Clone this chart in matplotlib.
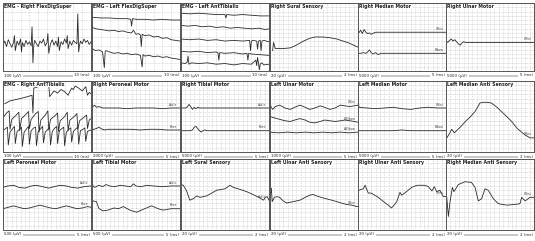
import matplotlib
matplotlib.use("Agg")
import matplotlib.pyplot as plt
from matplotlib.patches import Rectangle

W, H = 535, 241

titles = [
    "EMG - Right FlexDigSuper", "EMG - Left FlexDigSuper", "EMG - Left AntTibialis",
    "Right Sural Sensory", "Right Median Motor", "Right Ulnar Motor",
    "EMG - Right AntTibialis", "Right Peroneal Motor", "Right Tibial Motor",
    "Left Ulnar Motor", "Left Median Motor", "Left Median Anti Sensory",
    "Left Peroneal Motor", "Left Tibial Motor", "Left Sural Sensory",
    "Left Ulnar Anti Sensory", "Right Ulnar Anti Sensory", "Right Median Anti Sensory",
]
amp_labels = [
    "100 (µV)", "100 (µV)", "100 (µV)", "20 (µV)", "5000 (µV)", "5000 (µV)",
    "100 (µV)", "2000 (µV)", "5000 (µV)", "1000 (µV)", "5000 (µV)", "20 (µV)",
    "500 (µV)", "500 (µV)", "20 (µV)", "20 (µV)", "20 (µV)", "20 (µV)",
]
time_labels = [
    "10 (ms)", "10 (ms)", "10 (ms)", "2 (ms)", "5 (ms)", "5 (ms)",
    "10 (ms)", "5 (ms)", "5 (ms)", "5 (ms)", "5 (ms)", "2 (ms)",
    "5 (ms)", "5 (ms)", "2 (ms)", "2 (ms)", "2 (ms)", "2 (ms)",
]
is_emg = [True, True, True, False, False, False,
          True, False, False, False, False, False,
          False, False, False, False, False, False]

# ---- traces (x: 0-100 across panel, y: 0-100 bottom to top) ----
p1_x = [0,2,4,6,8,10,12,13,14,16,18,20,21,22,24,26,28,30,32,33,34,35,36,38,40,42,44,46,48,50,
        51,52,54,56,58,60,62,63,64,66,68,70,72,73,74,76,78,80,82,84,85,86,87,88,90,92,94,96,98,100]
p1_y = [38,44,36,46,40,35,42,52,30,44,38,47,28,42,36,45,39,43,37,65,12,38,45,40,36,44,41,47,37,42,
        55,26,40,46,38,44,36,50,30,43,39,47,41,52,33,44,38,45,42,40,84,28,38,44,40,47,42,45,39,43]

p2a_x = [0,10,20,30,40,44,45,46,50,60,70,80,90,100]
p2a_y = [79,78,78,77,77,76,66,77,76,76,75,76,75,75]
p2b_x = [0,5,10,15,20,25,30,35,40,45,47,50,53,55,56,57,60,65,70,75,80,85,90,95,100]
p2b_y = [64,62,61,60,59,60,58,59,57,56,60,54,55,53,36,54,52,53,50,51,48,49,46,45,44]
p2c_x = [0,4,8,12,14,15,16,20,25,30,35,40,45,50,55,57,58,60,65,70,75,80,85,90,95,100]
p2c_y = [33,30,31,28,5,29,30,28,26,27,25,26,24,25,23,6,24,22,23,21,22,20,21,19,18,17]

p3a_x = [0,10,20,30,40,50,51,52,60,70,80,90,100]
p3a_y = [85,84,85,84,83,83,78,83,82,83,82,81,81]
p3b_x = [0,8,16,24,32,40,48,56,64,72,80,88,96,100]
p3b_y = [67,66,67,65,66,64,65,63,64,63,62,63,61,62]
p3c_x = [0,10,20,30,40,50,60,70,78,79,80,82,86,87,88,90,91,92,94,100]
p3c_y = [47,46,47,45,46,44,45,44,45,30,44,45,44,32,44,45,30,44,45,43]
p3d_x = [0,10,20,30,40,42,43,44,50,60,70,75,76,77,80,90,100]
p3d_y = [29,28,29,27,28,27,16,27,26,27,25,26,16,26,25,24,23]
p3e_x = [0,5,7,8,9,12,20,30,40,50,60,70,80,85,86,87,88,89,90,92,94,100]
p3e_y = [12,11,13,22,10,12,11,12,10,11,9,11,10,16,8,20,12,2,10,12,9,10]

p4_x = [3,4,6,15,23,30,38,45,51,60,68,76,83,90,95,100]
p4_y = [30,42,33,33,34,38,44,48,50,50,49,47,44,41,38,35]

p5a_x = [0,0.5,1,3,5,7,9,11,13,15,18,20,25,30,40,50,60,70,80,90,100]
p5a_y = [80,58,56,60,55,61,57,55,56,54,56,57,57,57,57,57,57,57,57,57,57]
p5b_x = [0,3,6,9,11,13,15,17,20,23,26,30,40,50,60,70,80,90,100]
p5b_y = [26,26,27,26,28,31,27,25,27,24,26,26,26,26,26,26,26,26,26]

p6_x = [0,0.5,2,4,6,8,10,12,14,16,18,20,22,25,30,40,50,60,70,80,90,100]
p6_y = [56,44,42,45,47,44,46,43,40,38,41,43,42,42,42,42,42,42,42,42,42,42]

p7a_x = [2,8,15,22,28,33,34,35,40,45,50,52,53,58,62,66,70,74,78,80,82,86,90,94,96,98,100]
p7a_y = [68,72,74,76,78,80,55,90,92,93,94,95,78,86,83,88,85,80,90,88,93,90,86,92,80,84,82]
p7b_x = [0,4,7,8,10,15,18,19,21,26,29,30,32,37,40,41,43,48,51,52,54,59,62,63,65,70,73,74,
         76,81,84,85,87,92,95,96,98,100]
p7b_y = [48,55,58,32,46,52,56,30,47,53,57,33,46,54,57,28,45,52,58,31,46,51,55,29,44,50,56,30,
         45,50,54,32,44,49,52,33,45,47]
p7c_x = [0,3,5,6,8,11,13,14,16,19,21,22,24,27,29,30,32,35,37,38,40,43,45,46,48,51,53,54,
         56,59,61,62,64,67,69,70,72,75,77,78,80,83,85,86,88,91,93,94,96,100]
p7c_y = [30,33,35,10,28,33,36,12,29,32,35,8,28,33,36,11,30,34,35,9,29,33,36,13,28,32,35,10,
         29,34,36,12,30,33,35,9,28,32,34,14,29,33,35,11,30,32,34,15,29,31]

p8a_x = [0,1,3,5,8,12,16,20,30,40,50,60,70,80,90,100]
p8a_y = [58,64,66,63,64,62,62,62,62,61,62,62,62,61,62,62]
p8b_x = [0,2,5,8,10,14,18,25,35,45,55,65,75,85,100]
p8b_y = [31,32,33,35,33,31,32,32,32,32,31,32,32,31,31]

p9a_x = [0,5,7,9,11,13,15,17,19,21,25,35,50,65,80,100]
p9a_y = [62,62,63,67,64,60,63,61,63,62,62,62,62,62,62,62]
p9b_x = [0,10,13,15,17,19,21,23,25,27,30,40,55,70,85,100]
p9b_y = [30,30,31,35,36,33,30,28,30,31,30,30,30,30,30,30]

p10a_x = [0,1,3,6,11,17,23,28,34,40,45,51,57,62,68,74,80,85,91,100]
p10a_y = [72,64,60,64,66,62,60,63,66,63,60,62,65,63,60,62,66,65,64,66]
p10b_x = [0,5,11,17,23,28,34,40,45,51,57,62,68,74,80,85,91,100]
p10b_y = [50,48,46,44,43,45,47,45,42,41,43,45,44,43,44,45,44,42]
p10c_x = [0,10,20,30,40,50,60,70,80,90,100]
p10c_y = [28,27,28,27,28,27,28,27,28,27,28]

p11a_x = [0,1,10,20,30,40,50,60,70,80,90,100]
p11a_y = [85,63,62,61,62,63,61,60,62,63,62,62]
p11b_x = [0,10,20,30,40,50,60,70,80,90,100]
p11b_y = [30,30,30,30,30,31,30,30,30,30,30]

p12_x = [0,1,4,6.5,9.5,12,17,22,28,33,38.6,42,47,51.5,57,63,69,74.6,79,82,86,89.8,95.5,100]
p12_y = [20,20,26,32,27,30,36,43,50,57,69,70,70,69,64,57,50,43,36,32,28,24,20,20]

p13a_x = [0,5,12,18,25,32,38,45,52,58,65,72,78,85,92,100]
p13a_y = [60,62,63,60,59,62,63,61,59,61,63,62,60,59,61,62]
p13b_x = [0,6,12,18,24,30,36,42,48,54,60,66,72,78,84,90,96,100]
p13b_y = [30,32,34,32,30,31,33,35,33,31,30,32,34,32,30,31,33,32]

p14a_x = [0,1,3,8,12,16,20,26,32,38,44,47,50,56,62,70,80,90,100]
p14a_y = [73,62,60,63,61,64,62,61,63,62,61,65,62,61,63,62,61,62,62]
p14b_x = [0,1,5,8,12.5,18,25,30,35.6,43,50.8,58,67.8,75,81,90,100]
p14b_y = [40,41,40,30,27,28,31,30,33,28,25,29,34,30,28,30,30]

p15_x = [0,2.6,6.4,10,14,17.8,21.6,29,35,40.5,45,50,55.7,59.5,65,70,74.6,80,85,89.8,93.6,96,98,100]
p15_y = [64,63,55,42,44,48,46,48,52,56,57,58,63,60,58,56,54,51,48,45,42,46,47,42]

p16_x = [0,1.5,2.5,5,7.6,11,15,19,26.5,34,40,45,49,53,58,64,70,75.8,81,87,93,98.5,100]
p16_y = [45,59,40,46,47,46,41,38,40,42,46,49,50,48,46,44,42,40,38,36,35,33,33]

p17_x = [0,3,6,8,11.7,15,19,23,27,31,34.5,38,41,44,47.7,49.6,53,57,61,64.8,68,72,76,80,84,86.7,89.4,93,97,100]
p17_y = [55,57,58,63,52,52,49,46,42,38,35,31,35,40,53,49,52,56,60,62,63,63,63,61,55,61,54,56,47,47]

p18_x = [0,0.8,2.7,4.6,7.2,9,14,21.6,29,33,36.7,40.5,44.3,48,53.8,59.5,69,78,84,86,90,95.5,100]
p18_y = [47,47,19,40,60,54,64,68,67,60,41,44,58,56,44,37,35,36,37,46,41,46,46]

panel_traces = [
    [(p1_x, p1_y)],
    [(p2a_x, p2a_y), (p2b_x, p2b_y), (p2c_x, p2c_y)],
    [(p3a_x, p3a_y), (p3b_x, p3b_y), (p3c_x, p3c_y), (p3d_x, p3d_y), (p3e_x, p3e_y)],
    [(p4_x, p4_y)],
    [(p5a_x, p5a_y), (p5b_x, p5b_y)],
    [(p6_x, p6_y)],
    [(p7a_x, p7a_y), (p7b_x, p7b_y), (p7c_x, p7c_y)],
    [(p8a_x, p8a_y), (p8b_x, p8b_y)],
    [(p9a_x, p9a_y), (p9b_x, p9b_y)],
    [(p10a_x, p10a_y), (p10b_x, p10b_y), (p10c_x, p10c_y)],
    [(p11a_x, p11a_y), (p11b_x, p11b_y)],
    [(p12_x, p12_y)],
    [(p13a_x, p13a_y), (p13b_x, p13b_y)],
    [(p14a_x, p14a_y), (p14b_x, p14b_y)],
    [(p15_x, p15_y)],
    [(p16_x, p16_y)],
    [(p17_x, p17_y)],
    [(p18_x, p18_y)],
]

site_labels = [
    [], [], [], [], ["Wrist", "Elbow"], ["Wrist"],
    [], ["Ankle", "Knee"], ["Ankle", "Knee"], ["Wrist", "B.Elbow", "A.Elbow"],
    ["Wrist", "Elbow"], ["Wrist"],
    ["Ankle", "Knee"], ["Ankle", "Knee"], ["Ankle"], ["Wrist"], ["Wrist"], ["Wrist"],
]

col_left = [3, 92, 181, 270, 358, 446]
panel_w = 88
row_top = [3, 81, 159]
row_h = [68, 71, 71]

fig = plt.figure(figsize=(W / 100, H / 100), dpi=100)
fig.patch.set_facecolor("white")


def fx(px):
    return px / W


def fy(py):
    return 1 - py / H


footer_items = []
for i, title in enumerate(titles):
    r, c = divmod(i, 6)
    left, top, h = col_left[c], row_top[r], row_h[r]
    ax = fig.add_axes([fx(left), fy(top + h), panel_w / W, h / H])
    ax.set_xlim(0, 100)
    ax.set_ylim(0, 100)
    if is_emg[i]:
        ax.set_xticks([k * 10 for k in range(11)])
        ax.set_yticks([k * 12.5 for k in range(9)])
    else:
        ax.set_xticks([k * 5 for k in range(21)])
        ax.set_yticks([k * 6.25 for k in range(17)])
    ax.tick_params(length=0, labelbottom=False, labelleft=False)
    ax.grid(True, color="#a8a8a8", linewidth=0.4, linestyle=(0, (1, 1.8)))
    ax.set_axisbelow(True)
    for sp in ax.spines.values():
        sp.set_linewidth(0.7)
        sp.set_color("#555555")
    for tx, ty in panel_traces[i]:
        ax.plot(tx, ty, color="#2a2a2a", linewidth=0.6)
    ax.text(0.015, 0.985, title, transform=ax.transAxes, fontsize=3.3,
            fontweight="bold", va="top", ha="left", color="#222222",
            bbox=dict(facecolor="white", edgecolor="none", pad=0.3))
    for lab, (tx, ty) in zip(site_labels[i], panel_traces[i]):
        ax.text(97, ty[-1] + 2, lab, fontsize=2.2, ha="right", va="bottom", color="#444444")
    # footer
    yfoot = top + h + 4.5
    t1 = fig.text(fx(left + 1), fy(yfoot), amp_labels[i], fontsize=2.9,
                  ha="left", va="center", color="#222222")
    t2 = fig.text(fx(left + panel_w - 1), fy(yfoot), time_labels[i], fontsize=2.9,
                  ha="right", va="center", color="#222222")
    footer_items.append((t1, t2, yfoot))

fig.canvas.draw()
renderer = fig.canvas.get_renderer()
for t1, t2, yfoot in footer_items:
    b1 = t1.get_window_extent(renderer)
    b2 = t2.get_window_extent(renderer)
    x0 = b1.x1 + 2
    x1 = b2.x0 - 2
    fig.patches.append(Rectangle((x0 / W, fy(yfoot + 1.0)), (x1 - x0) / W, 2.0 / H,
                                 transform=fig.transFigure, facecolor="#c8c8c8",
                                 edgecolor="none"))

fig.savefig("out.png", dpi=100, facecolor="white")
